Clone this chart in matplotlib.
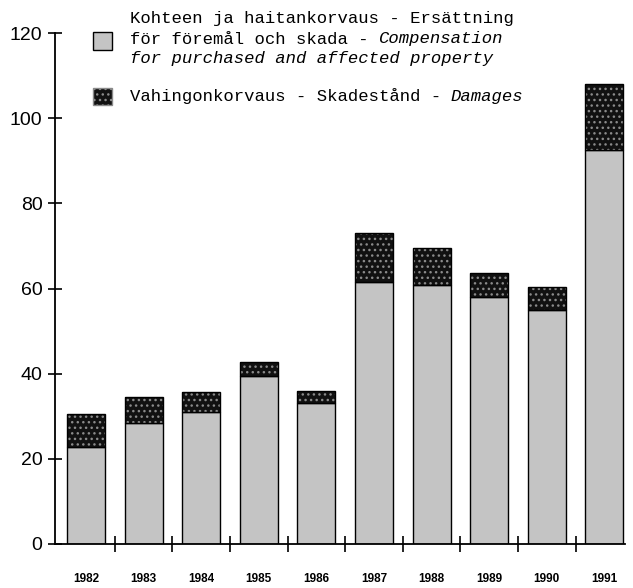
import numpy as np
import matplotlib
matplotlib.use("Agg")
import matplotlib.pyplot as plt
from matplotlib.patches import Rectangle

# values (million FIM)
years = ['1982', '1983', '1984', '1985', '1986', '1987', '1988', '1989', '1990', '1991']
compensation = [22.8, 28.4, 31.0, 39.4, 33.1, 61.5, 60.8, 58.0, 55.0, 92.5]
damages = [7.7, 6.1, 4.8, 3.3, 2.8, 11.5, 8.7, 5.6, 5.3, 15.5]

yticks = [0, 20, 40, 60, 80, 100, 120]

light = '#c4c4c4'
dark = '#111111'

fig = plt.figure(figsize=(6.33, 5.88), dpi=100)
W, H = 633.0, 588.0
ax = fig.add_axes([55 / W, 1 - 544 / H, 570 / W, 511 / H])

x = np.arange(len(years))
bw = 0.66
ax.bar(x, compensation, bw, color=light, edgecolor='black', linewidth=1.0)
# dark stipple for the damages part: fill + hatch first, black outline on top
ax.bar(x, damages, bw, bottom=compensation, color=dark, edgecolor='#8a8a8a',
       hatch='...', linewidth=0)
ax.bar(x, damages, bw, bottom=compensation, fill=False, edgecolor='black', linewidth=1.0)

ax.set_xlim((55 - 86) / 57.6, (625 - 86) / 57.6)
ax.set_ylim(0, 120)

for s in ['top', 'right']:
    ax.spines[s].set_visible(False)
ax.spines['left'].set_linewidth(1.3)
ax.spines['bottom'].set_linewidth(1.3)

ax.set_yticks(yticks)
ax.set_yticklabels([str(v) for v in yticks], fontsize=14, fontfamily='Liberation Sans')
ax.tick_params(axis='y', direction='inout', length=10, width=1.2, pad=4)

ax.set_xticks(x)
ax.set_xticklabels(years, fontsize=8.5, fontweight='bold', fontfamily='Liberation Sans')
ax.tick_params(axis='x', which='major', length=0, pad=21)
ax.set_xticks(x[:-1] + 0.5, minor=True)
ax.tick_params(axis='x', which='minor', direction='inout', length=11, width=1.2)

# legend drawn by hand, monospace typewriter look
mono = 'Liberation Mono'
fs = 12.4
cw = 10.33  # px per char

def fx(px):
    return px / W

def fy(py):
    return 1 - py / H

tx = 130
lines = [
    (19, [('Kohteen ja haitankorvaus - Ersättning', 'normal')]),
    (39, [('för föremål och skada - ', 'normal'), ('Compensation', 'italic')]),
    (59, [('for purchased and affected property', 'italic')]),
    (96, [('Vahingonkorvaus - Skadestånd - ', 'normal'), ('Damages', 'italic')]),
]
for py, parts in lines:
    off = 0
    for txt, st in parts:
        fig.text(fx(tx + off * cw), fy(py), txt, fontsize=fs, fontfamily=mono,
                 fontstyle=st, va='center', ha='left')
        off += len(txt)

fig.patches.append(Rectangle((fx(93), fy(50)), 19 / W, 18 / H, transform=fig.transFigure,
                             facecolor=light, edgecolor='black', linewidth=1.0))
fig.patches.append(Rectangle((fx(93), fy(105)), 19 / W, 17 / H, transform=fig.transFigure,
                             facecolor=dark, edgecolor='#8a8a8a', hatch='...', linewidth=1.0))

fig.savefig('out.png', dpi=100)
